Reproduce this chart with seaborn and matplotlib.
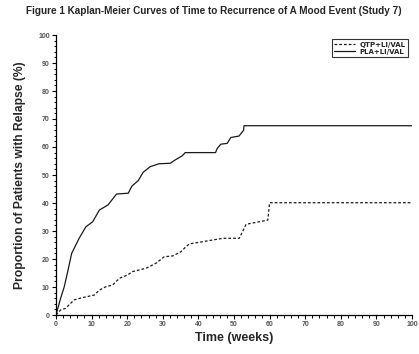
import matplotlib
matplotlib.use("Agg")
import matplotlib.pyplot as plt
import seaborn as sns
import pandas as pd
from matplotlib.ticker import MultipleLocator

# ---- data ----
pla_time = [0, 1.3, 2.3, 3.2, 4.4, 6.5, 8.4, 10.3, 12.2, 14.6, 17, 20.3, 21.3, 23.1, 24.5,
            26.5, 28.9, 32.1, 33.5, 35.4, 36.3, 44.8, 45.3, 46.3, 48.1, 49.1, 51.4, 52.7, 52.8, 100]
pla_pct = [0, 6, 10, 15, 22, 27.4, 31.5, 33.3, 37.5, 39.3, 43.2, 43.5, 46, 48, 51,
           53, 54, 54.2, 55.4, 56.8, 58, 58, 59.5, 61, 61.3, 63.4, 63.9, 66, 67.6, 67.6]
qtp_time = [0, 1.3, 2.7, 5.1, 7.4, 10.7, 12.2, 14, 15.9, 17.8, 20.1, 21.5, 25.3, 28.1, 30.4,
            32.8, 35.1, 36.5, 37.5, 42.2, 46.9, 51.5, 53.4, 59.5, 60, 100]
qtp_pct = [0, 1.8, 2.4, 5.4, 6.2, 7.1, 8.9, 10.1, 10.7, 13.1, 14.3, 15.5, 16.7, 18.5, 20.8,
           21.1, 22.6, 24.4, 25.4, 26.4, 27.4, 27.4, 32.4, 33.9, 40.1, 40.1]
groups = ["QTP+LI/VAL", "PLA+LI/VAL"]
x_ticks = list(range(0, 101, 10))
y_ticks = list(range(0, 101, 10))
title = "Figure 1 Kaplan-Meier Curves of Time to Recurrence of A Mood Event (Study 7)"
xlabel = "Time (weeks)"
ylabel = "Proportion of Patients with Relapse (%)"

df = pd.concat([
    pd.DataFrame({"time": qtp_time, "pct": qtp_pct, "group": groups[0]}),
    pd.DataFrame({"time": pla_time, "pct": pla_pct, "group": groups[1]}),
], ignore_index=True)

sns.set_style("ticks")
plt.rcParams["font.family"] = ["Liberation Sans", "DejaVu Sans"]

fig = plt.figure(figsize=(4.19, 3.54), dpi=100)
ax = fig.add_axes([56 / 419, 39 / 354, 356 / 419, 280 / 354])

sns.lineplot(data=df, x="time", y="pct", hue="group", style="group",
             hue_order=groups, style_order=groups,
             palette={groups[0]: "#1a1a1a", groups[1]: "#1a1a1a"},
             dashes={groups[0]: (2.2, 1.6), groups[1]: ""},
             estimator=None, sort=False, linewidth=0.9, ax=ax)

ax.set_xlim(0, 100)
ax.set_ylim(0, 100)
ax.set_xticks(x_ticks)
ax.set_yticks(y_ticks)
ax.xaxis.set_minor_locator(MultipleLocator(2))
ax.yaxis.set_minor_locator(MultipleLocator(2))
for s in ["top", "right"]:
    ax.spines[s].set_visible(False)
for s in ["left", "bottom"]:
    ax.spines[s].set_linewidth(0.9)
    ax.spines[s].set_color("black")
ax.tick_params(which="major", length=3, width=0.8, color="black", pad=1.5,
               labelsize=5, labelcolor="#555555")
ax.tick_params(which="minor", length=1.8, width=0.7, color="black")
for lab in ax.get_xticklabels() + ax.get_yticklabels():
    lab.set_fontweight("bold")

ax.set_xlabel(xlabel, fontsize=9, fontweight="bold", labelpad=3)
ax.set_ylabel(ylabel, fontsize=8.7, fontweight="bold", labelpad=9)

fig.text(0.51, 0.968, title, ha="center", va="center", fontsize=7.2, fontweight="bold",
         family=["Liberation Sans Narrow", "Liberation Sans", "DejaVu Sans"])

leg = ax.legend(loc="upper right", bbox_to_anchor=(0.998, 0.997), frameon=True, fancybox=False,
                edgecolor="black", handlelength=3.0, handletextpad=0.6, borderpad=0.35,
                labelspacing=0.15, prop={"family": ["Liberation Sans Narrow", "DejaVu Sans"],
                                         "weight": "bold", "size": 5})
leg.get_frame().set_linewidth(0.8)
leg.get_frame().set_facecolor("white")

fig.savefig("out.png", dpi=100)
